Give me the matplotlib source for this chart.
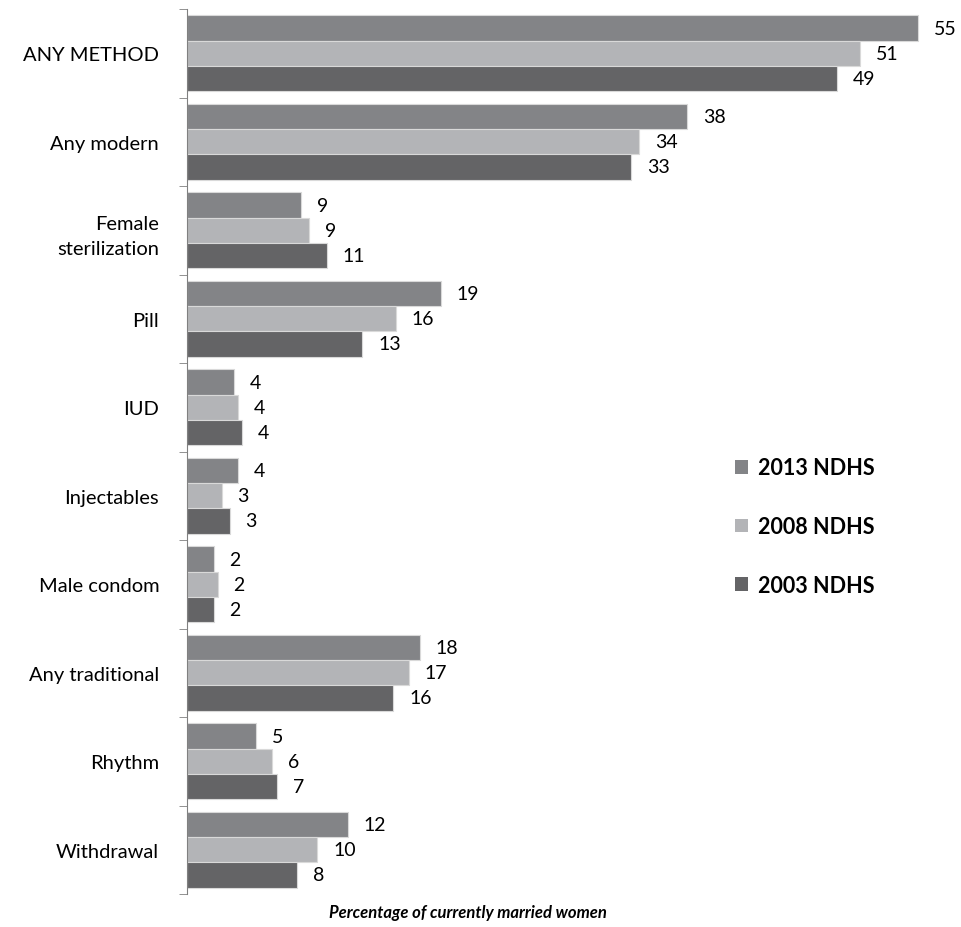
import matplotlib.pyplot as plt
import numpy as np

plt.rcParams['font.family'] = ['Lato', 'DejaVu Sans']

methods = ['ANY METHOD', 'Any modern', 'Female\nsterilization', 'Pill', 'IUD',
           'Injectables', 'Male condom', 'Any traditional', 'Rhythm', 'Withdrawal']
series = ['2013 NDHS', '2008 NDHS', '2003 NDHS']
vals_2013 = [55.0, 37.6, 8.6, 19.1, 3.5, 3.8, 2.0, 17.5, 5.2, 12.1]
vals_2008 = [50.6, 34.0, 9.2, 15.7, 3.8, 2.6, 2.3, 16.7, 6.4, 9.8]
vals_2003 = [48.9, 33.4, 10.5, 13.2, 4.1, 3.2, 2.0, 15.5, 6.8, 8.3]
lab_2013 = [55, 38, 9, 19, 4, 4, 2, 18, 5, 12]
lab_2008 = [51, 34, 9, 16, 4, 3, 2, 17, 6, 10]
lab_2003 = [49, 33, 11, 13, 4, 3, 2, 16, 7, 8]
colors = ['#838487', '#b3b4b7', '#646466']

fig = plt.figure(figsize=(9.62, 9.28), dpi=100)
ax = fig.add_axes([187 / 962, 1 - 895 / 928, 1 - 187 / 962, 885 / 928])

y = np.arange(len(methods))
h = 0.285
all_vals = [vals_2013, vals_2008, vals_2003]
all_labs = [lab_2013, lab_2008, lab_2003]
for i in range(3):
    pos = y + (i - 1) * h
    ax.barh(pos, all_vals[i], height=h, color=colors[i], edgecolor='#d9d9d9',
            linewidth=0.8, label=series[i])
    for p, v, l in zip(pos, all_vals[i], all_labs[i]):
        ax.text(v + 1.2, p, str(l), va='center', ha='left', fontsize=14)

ax.set_ylim(len(methods) - 0.5, -0.5)
ax.set_xlim(0, 58.3)
ax.set_yticks(y)
ax.set_yticklabels(methods, fontsize=14.5, linespacing=1.6)
ax.set_yticks(np.arange(-0.5, len(methods)), minor=True)
ax.tick_params(axis='y', which='major', length=0, pad=20)
ax.tick_params(axis='y', which='minor', length=6, color='#808080')
ax.set_xticks([])
for s in ['top', 'right', 'bottom']:
    ax.spines[s].set_visible(False)
ax.spines['left'].set_color('#808080')

leg = fig.legend(loc='upper left', bbox_to_anchor=(716 / 962, 1 - 439 / 928),
                 frameon=False, prop={'weight': 'bold', 'size': 15.5},
                 handlelength=0.6, handleheight=0.6, labelspacing=1.75,
                 handletextpad=0.45)
for hd in leg.legend_handles:
    hd.set_edgecolor('none')

fig.text(468 / 962, 1 - 913 / 928, 'Percentage of currently married women',
         ha='center', va='center', fontsize=12, fontweight='bold', style='italic')

fig.savefig('out.png', dpi=100)
